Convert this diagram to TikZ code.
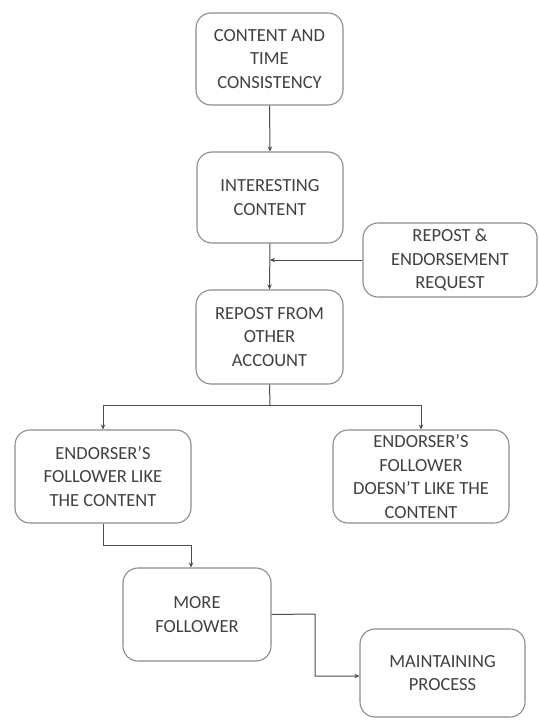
\documentclass[tikz,border=0pt]{standalone}
\usepackage{fontspec}
\setmainfont{Carlito}
\usetikzlibrary{arrows.meta,calc}
\definecolor{boxline}{HTML}{8C8C8C}
\definecolor{txt}{HTML}{404040}
\definecolor{conn}{HTML}{4D4D4D}
\begin{document}
\begin{tikzpicture}[x=1pt,y=-1pt,
  flowbox/.style={draw=boxline, line width=1.1pt, rounded corners=15pt, align=center,
    text=txt, font=\fontsize{18.5}{23.5}\selectfont, inner sep=2pt},
  conline/.style={draw=conn, line width=1pt},
  arr/.style={conline, -{Stealth[length=5pt,width=4.5pt]}}]
\useasboundingbox (0,0) rectangle (538,720);
\node[flowbox, minimum width=147pt, minimum height=92pt] (b1) at (269.5,59) {CONTENT AND\\TIME\\CONSISTENCY};
\node[flowbox, minimum width=146pt, minimum height=91pt] (b2) at (270,197.5) {INTERESTING\\CONTENT};
\node[flowbox, minimum width=174pt, minimum height=74pt] (b3) at (450,260) {REPOST \&\\ENDORSEMENT\\REQUEST};
\node[flowbox, minimum width=147pt, minimum height=94pt] (b4) at (269.5,337) {REPOST FROM\\OTHER\\ACCOUNT};
\node[flowbox, minimum width=176pt, minimum height=93pt] (b5) at (103,476.5) {ENDORSER’S\\FOLLOWER LIKE\\THE CONTENT};
\node[flowbox, minimum width=176pt, minimum height=93pt] (b6) at (421,476.5) {ENDORSER’S\\FOLLOWER\\DOESN’T LIKE THE\\CONTENT};
\node[flowbox, minimum width=148pt, minimum height=93pt] (b7) at (197,614.5) {MORE\\FOLLOWER};
\node[flowbox, minimum width=165pt, minimum height=88pt] (b8) at (442.5,673) {MAINTAINING\\PROCESS};
\coordinate (j1) at (270,405);
\coordinate (m1) at (191,545);
\coordinate (m2) at (315,614);
\coordinate (m3) at (315,676);
\draw[arr] (b1.south) -- (b2.north);
\draw[arr] (b2.south) -- (b4.north);
\draw[arr] (b3.west) -- (b3.west -| b2.south);
\draw[conline] (b4.south) -- (j1);
\draw[arr] (j1) -| (b5.north);
\draw[arr] (j1) -| (b6.north);
\draw[arr] (b5.south) |- (m1) -- (m1 |- b7.north);
\draw[arr] (b7.east) -- (m2) -- (m3) -- (m3 -| b8.west);
\end{tikzpicture}
\end{document}
